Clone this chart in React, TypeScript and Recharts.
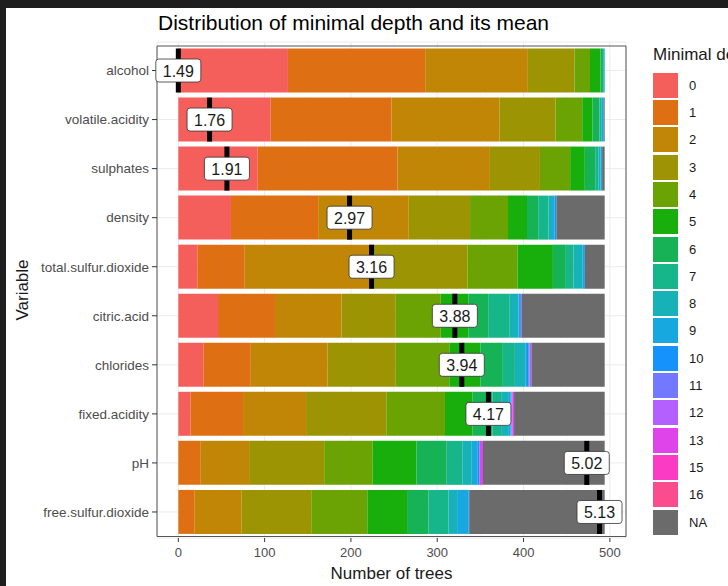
import {
  ComposedChart, Bar, XAxis, YAxis, CartesianGrid,
  ReferenceDot, ReferenceArea, Label
} from "recharts";

const variables = [
  "alcohol", "volatile.acidity", "sulphates", "density", "total.sulfur.dioxide",
  "citric.acid", "chlorides", "fixed.acidity", "pH", "free.sulfur.dioxide",
];

const depthLevels = ["0", "1", "2", "3", "4", "5", "6", "7", "8", "9", "10", "11", "12", "13", "15", "16", "NA"];
const depthColors = [
  "#F45F5B", "#DE7013", "#C18605", "#9D9403", "#6BA305", "#18AE0B", "#15B355", "#17B68A",
  "#17B2B7", "#16A8DF", "#1692FD", "#7379FF", "#B45FFF", "#DE44EA", "#FB3BC4", "#FB4C8E", "#6B6B6B",
];

// number of trees per minimal depth, same order as depthLevels
const alcoholCounts = [127, 159, 119, 54, 18, 12, 3, 1, 0, 1, 0, 0, 0, 0, 0, 0, 0];
const volatileAcidityCounts = [107, 140, 125, 65, 31, 12, 8, 2, 0, 3, 0, 0, 0, 0, 0, 0, 1];
const sulphatesCounts = [92, 162, 107, 58, 35, 17, 12, 4, 2, 2, 0, 0, 0, 0, 0, 0, 3];
const densityCounts = [61, 101, 105, 71, 44, 22, 13, 12, 4, 3, 2, 0, 0, 0, 0, 0, 56];
const totalSulfurCounts = [22, 55, 145, 113, 58, 41, 15, 9, 10, 2, 1, 0, 0, 0, 0, 0, 23];
const citricAcidCounts = [46, 66, 77, 63, 52, 32, 23, 25, 10, 2, 1, 0, 0, 1, 0, 0, 96];
const chloridesCounts = [29, 55, 89, 79, 62, 36, 26, 14, 12, 2, 2, 1, 2, 0, 0, 0, 85];
const fixedAcidityCounts = [14, 61, 73, 93, 68, 32, 23, 10, 9, 2, 1, 0, 1, 2, 0, 0, 105];
const phCounts = [0, 26, 56, 87, 56, 51, 35, 18, 11, 7, 2, 0, 0, 4, 0, 0, 141];
const freeSulfurCounts = [0, 19, 54, 81, 65, 46, 25, 23, 10, 13, 1, 0, 0, 0, 0, 0, 157];

const meanDepth = [1.49, 1.76, 1.91, 2.97, 3.16, 3.88, 3.94, 4.17, 5.02, 5.13];

const xTicks = [0, 100, 200, 300, 400, 500];
const xMinorTicks = [50, 150, 250, 350, 450];

const countsByVariable = [
  alcoholCounts, volatileAcidityCounts, sulphatesCounts, densityCounts, totalSulfurCounts,
  citricAcidCounts, chloridesCounts, fixedAcidityCounts, phCounts, freeSulfurCounts,
];

const rows = variables.map((v, i) => {
  const row: Record<string, string | number> = { variable: v };
  depthLevels.forEach((l, j) => { row["d" + l] = countsByVariable[i][j]; });
  return row;
});

const maxTotal = Math.max(...countsByVariable.map((c) => c.reduce((a, b) => a + b, 0)));
const xDomain = [-0.05 * maxTotal, 1.05 * maxTotal];

// mean label position like randomForestExplainer: rescaled mean
const minMean = Math.min(...meanDepth);
const maxMean = Math.max(...meanDepth);
const labelSpan = 488;
const meanPos = meanDepth.map((m) => ((m - minMean) / (maxMean - minMean)) * labelSpan);

function MeanMarker(props: any) {
  const { cx, cy, text } = props;
  const w = 45;
  return (
    <g>
      <rect x={cx - 2.5} y={cy - 22} width={5} height={44} fill="#000" />
      <rect x={cx - w / 2} y={cy - 11.5} width={w} height={23} rx={3} fill="#fff" stroke="#333" strokeWidth={0.8} />
      <text x={cx} y={cy + 1} textAnchor="middle" dominantBaseline="central" fontSize={16} fill="#1a1a1a">{text}</text>
    </g>
  );
}

const FONT = "'Liberation Sans', Arial, Helvetica, sans-serif";

export default function App() {
  return (
    <div style={{ position: "fixed", left: 0, top: 0, width: 728, height: 586, background: "#fff", overflow: "hidden", fontFamily: FONT }}>
      <div style={{ position: "absolute", left: 158, top: 11, fontSize: 21, lineHeight: "24px", color: "#000", whiteSpace: "nowrap" }}>
        Distribution of minimal depth and its mean
      </div>
      <div style={{ position: "absolute", left: 0, top: 0 }}>
        <ComposedChart width={728} height={586} data={rows} layout="vertical"
          margin={{ top: 42, right: 102, bottom: 3, left: 8 }} barCategoryGap="5%"
          style={{ fontFamily: FONT }}>
          <CartesianGrid horizontal={false} verticalValues={xMinorTicks} stroke="#f3f3f3" strokeWidth={0.6} />
          <CartesianGrid stroke="#ebebeb" strokeWidth={1} />
          <XAxis type="number" domain={xDomain} ticks={xTicks} allowDataOverflow
            axisLine={false} tickSize={4} tickMargin={6} height={45}
            tick={{ fontSize: 13, fill: "#4d4d4d" }} tickLine={{ stroke: "#333" }}>
            <Label value="Number of trees" position="insideBottom" offset={4} fontSize={17} fill="#1a1a1a" />
          </XAxis>
          <YAxis type="category" dataKey="variable" width={149} axisLine={false}
            tickSize={5} tickMargin={3} padding={{ top: 4, bottom: 1.5 }}
            tick={{ fontSize: 13.5, fill: "#4d4d4d" }} tickLine={{ stroke: "#333" }}>
            <Label content={(p: any) => {
              const vb = p.viewBox;
              const x = vb.x + 14;
              const y = vb.y + vb.height / 2;
              return (
                <text x={x} y={y} transform={`rotate(-90 ${x} ${y})`} textAnchor="middle"
                  dominantBaseline="central" fontSize={17} fill="#1a1a1a">Variable</text>
              );
            }} />
          </YAxis>
          {depthLevels.map((l, j) => (
            <Bar key={l} dataKey={"d" + l} stackId="depth" fill={depthColors[j]} isAnimationActive={false} />
          ))}
          {variables.map((v, i) => (
            <ReferenceDot key={v} x={meanPos[i]} y={v} r={0} ifOverflow="visible"
              shape={(p: any) => <MeanMarker {...p} text={meanDepth[i].toFixed(2)} />} />
          ))}
          <ReferenceArea x1={xDomain[0]} x2={xDomain[1]} fill="none" stroke="#555" strokeWidth={1} ifOverflow="visible" />
        </ComposedChart>
      </div>
      <div style={{ position: "absolute", left: 653, top: 44, fontSize: 17, color: "#1a1a1a", whiteSpace: "nowrap", lineHeight: "22px" }}>
        Minimal depth
      </div>
      {depthLevels.map((l, j) => (
        <div key={l} style={{ position: "absolute", left: 653, top: 72.7 + j * 27.3, height: 25, display: "flex", alignItems: "center" }}>
          <div style={{ width: 25, height: 25, background: depthColors[j] }} />
          <span style={{ marginLeft: 11, fontSize: 13, color: "#1a1a1a" }}>{l}</span>
        </div>
      ))}
      <div style={{ position: "absolute", left: 0, top: 0, width: 728, height: 8, background: "#1e1e1e" }} />
      <div style={{ position: "absolute", left: 0, top: 0, width: 6, height: 586, background: "#1e1e1e" }} />
    </div>
  );
}
